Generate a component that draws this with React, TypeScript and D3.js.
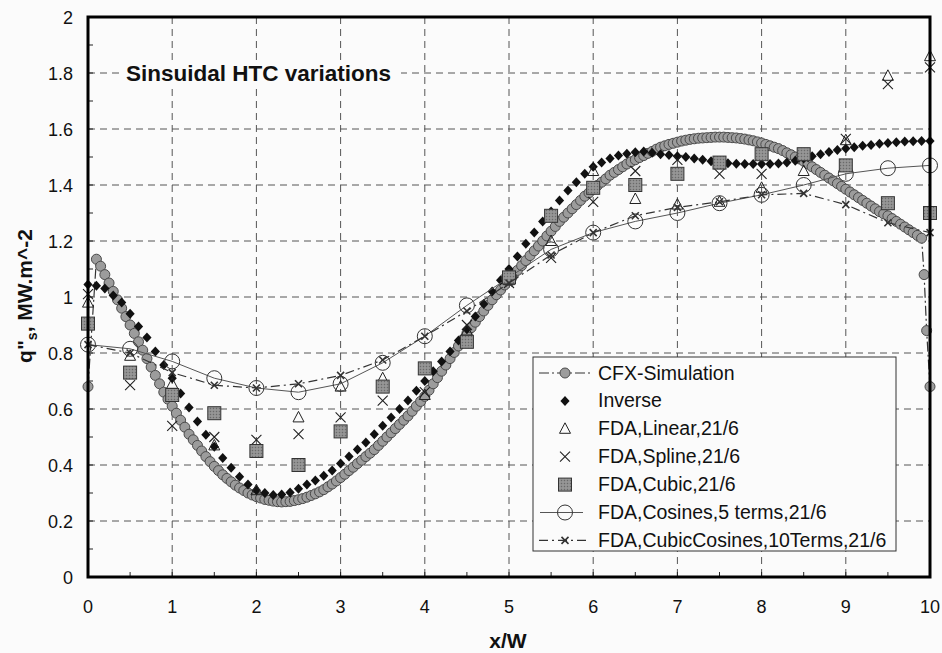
import React from 'react';
import * as d3 from 'd3';

// CFX simulation (dense gray circles)
const cfxX = [0, 0.1, 0.15, 0.2, 0.25, 0.3, 0.35, 0.4, 0.45, 0.5, 0.55, 0.6, 0.65, 0.7, 0.75, 0.8, 0.85, 0.9, 0.95,
  1.0, 1.05, 1.1, 1.15, 1.2, 1.25, 1.3, 1.35, 1.4, 1.45, 1.5, 1.55, 1.6, 1.65, 1.7, 1.75, 1.8, 1.85, 1.9, 1.95,
  2.0, 2.05, 2.1, 2.15, 2.2, 2.25, 2.3, 2.35, 2.4, 2.45, 2.5, 2.55, 2.6, 2.65, 2.7, 2.75, 2.8, 2.85, 2.9, 2.95,
  3.0, 3.05, 3.1, 3.15, 3.2, 3.25, 3.3, 3.35, 3.4, 3.45, 3.5, 3.55, 3.6, 3.65, 3.7, 3.75, 3.8, 3.85, 3.9, 3.95,
  4.0, 4.05, 4.1, 4.15, 4.2, 4.25, 4.3, 4.35, 4.4, 4.45, 4.5, 4.55, 4.6, 4.65, 4.7, 4.75, 4.8, 4.85, 4.9, 4.95,
  5.0, 5.05, 5.1, 5.15, 5.2, 5.25, 5.3, 5.35, 5.4, 5.45, 5.5, 5.55, 5.6, 5.65, 5.7, 5.75, 5.8, 5.85, 5.9, 5.95,
  6.0, 6.05, 6.1, 6.15, 6.2, 6.25, 6.3, 6.35, 6.4, 6.45, 6.5, 6.55, 6.6, 6.65, 6.7, 6.75, 6.8, 6.85, 6.9, 6.95,
  7.0, 7.05, 7.1, 7.15, 7.2, 7.25, 7.3, 7.35, 7.4, 7.45, 7.5, 7.55, 7.6, 7.65, 7.7, 7.75, 7.8, 7.85, 7.9, 7.95,
  8.0, 8.05, 8.1, 8.15, 8.2, 8.25, 8.3, 8.35, 8.4, 8.45, 8.5, 8.55, 8.6, 8.65, 8.7, 8.75, 8.8, 8.85, 8.9, 8.95,
  9.0, 9.05, 9.1, 9.15, 9.2, 9.25, 9.3, 9.35, 9.4, 9.45, 9.5, 9.55, 9.6, 9.65, 9.7, 9.75, 9.8, 9.85, 9.9,
  9.93, 9.96, 10.0];
const cfxY = [0.68, 1.135, 1.11, 1.08, 1.05, 1.02, 0.99, 0.96, 0.93, 0.90, 0.87, 0.84, 0.81, 0.78, 0.75, 0.72, 0.69, 0.66, 0.635,
  0.61, 0.585, 0.56, 0.535, 0.51, 0.49, 0.47, 0.45, 0.43, 0.412, 0.395, 0.38, 0.365, 0.352, 0.34, 0.328, 0.318, 0.309, 0.30, 0.293,
  0.287, 0.282, 0.277, 0.274, 0.271, 0.269, 0.268, 0.269, 0.27, 0.273, 0.276, 0.28, 0.285, 0.291, 0.297, 0.304, 0.312, 0.322, 0.332, 0.343,
  0.355, 0.367, 0.38, 0.392, 0.405, 0.417, 0.43, 0.442, 0.455, 0.47, 0.485, 0.50, 0.515, 0.53, 0.545, 0.56, 0.575, 0.592, 0.61, 0.627,
  0.645, 0.667, 0.69, 0.712, 0.735, 0.757, 0.78, 0.802, 0.825, 0.847, 0.87, 0.89, 0.91, 0.93, 0.95, 0.97, 0.99, 1.008, 1.025, 1.043,
  1.06, 1.078, 1.095, 1.112, 1.13, 1.148, 1.165, 1.182, 1.20, 1.218, 1.235, 1.252, 1.27, 1.285, 1.30, 1.315, 1.33, 1.345, 1.36, 1.372,
  1.385, 1.398, 1.41, 1.422, 1.435, 1.445, 1.455, 1.465, 1.475, 1.483, 1.49, 1.498, 1.505, 1.513, 1.52, 1.528, 1.535, 1.54, 1.545, 1.549,
  1.553, 1.557, 1.56, 1.563, 1.565, 1.567, 1.568, 1.569, 1.57, 1.571, 1.571, 1.571, 1.57, 1.569, 1.568, 1.566, 1.564, 1.561, 1.558, 1.554,
  1.55, 1.545, 1.54, 1.535, 1.53, 1.523, 1.515, 1.508, 1.50, 1.493, 1.485, 1.475, 1.465, 1.455, 1.445, 1.435, 1.425, 1.415, 1.405, 1.395,
  1.385, 1.375, 1.365, 1.355, 1.345, 1.335, 1.325, 1.315, 1.305, 1.297, 1.29, 1.28, 1.27, 1.26, 1.25, 1.24, 1.23, 1.22, 1.21,
  1.08, 0.88, 0.68];

// Inverse (black diamonds)
const invX = [0, 0.1, 0.2, 0.3, 0.4, 0.5, 0.6, 0.7, 0.8, 0.9, 1.0, 1.1, 1.2, 1.3, 1.4, 1.5, 1.6, 1.7, 1.8, 1.9,
  2.0, 2.1, 2.2, 2.3, 2.4, 2.5, 2.6, 2.7, 2.8, 2.9, 3.0, 3.1, 3.2, 3.3, 3.4, 3.5, 3.6, 3.7, 3.8, 3.9,
  4.0, 4.1, 4.2, 4.3, 4.4, 4.5, 4.6, 4.7, 4.8, 4.9, 5.0, 5.1, 5.2, 5.3, 5.4, 5.5, 5.6, 5.7, 5.8, 5.9,
  6.0, 6.1, 6.2, 6.3, 6.4, 6.5, 6.6, 6.7, 6.8, 6.9, 7.0, 7.1, 7.2, 7.3, 7.4, 7.5, 7.6, 7.7, 7.8, 7.9,
  8.0, 8.1, 8.2, 8.3, 8.4, 8.5, 8.6, 8.7, 8.8, 8.9, 9.0, 9.1, 9.2, 9.3, 9.4, 9.5, 9.6, 9.7, 9.8, 9.9, 10.0];
const invY = [1.045, 1.04, 1.03, 1.005, 0.98, 0.94, 0.895, 0.855, 0.805, 0.757, 0.71, 0.655, 0.605, 0.555, 0.508, 0.465, 0.425, 0.39, 0.358, 0.33,
  0.31, 0.30, 0.293, 0.295, 0.302, 0.315, 0.33, 0.345, 0.362, 0.38, 0.405, 0.43, 0.455, 0.48, 0.51, 0.54, 0.57, 0.60, 0.63, 0.665,
  0.70, 0.735, 0.77, 0.805, 0.845, 0.885, 0.93, 0.975, 1.02, 1.06, 1.10, 1.145, 1.19, 1.23, 1.27, 1.305, 1.345, 1.38, 1.41, 1.44,
  1.465, 1.48, 1.495, 1.505, 1.512, 1.517, 1.52, 1.515, 1.51, 1.507, 1.503, 1.50, 1.495, 1.49, 1.485, 1.48, 1.478, 1.476, 1.475, 1.475,
  1.475, 1.475, 1.477, 1.48, 1.487, 1.495, 1.503, 1.51, 1.518, 1.525, 1.53, 1.535, 1.54, 1.543, 1.547, 1.55, 1.553, 1.555, 1.556, 1.557, 1.557];

// FDA series, 21 points
const fdaX = [0, 0.5, 1, 1.5, 2, 2.5, 3, 3.5, 4, 4.5, 5, 5.5, 6, 6.5, 7, 7.5, 8, 8.5, 9, 9.5, 10];
const linearY = [0.98, 0.79, 0.69, 0.47, 0.31, 0.57, 0.68, 0.71, 0.65, 0.88, 1.06, 1.20, 1.45, 1.35, 1.33, 1.34, 1.39, 1.45, 1.56, 1.79, 1.86];
const splineY = [1.01, 0.685, 0.54, 0.50, 0.49, 0.51, 0.57, 0.63, 0.66, 0.90, 1.05, 1.14, 1.34, 1.45, 1.49, 1.44, 1.44, 1.50, 1.565, 1.76, 1.82];
const cubicY = [0.905, 0.73, 0.65, 0.585, 0.45, 0.40, 0.52, 0.68, 0.745, 0.84, 1.07, 1.29, 1.39, 1.40, 1.44, 1.48, 1.51, 1.51, 1.47, 1.335, 1.30];
const cosinesY = [0.83, 0.815, 0.77, 0.71, 0.675, 0.66, 0.69, 0.765, 0.86, 0.97, 1.07, 1.17, 1.23, 1.27, 1.30, 1.335, 1.365, 1.40, 1.44, 1.46, 1.47];
const cubicCosY = [0.83, 0.80, 0.73, 0.685, 0.675, 0.69, 0.72, 0.775, 0.86, 0.95, 1.05, 1.15, 1.23, 1.29, 1.32, 1.34, 1.365, 1.37, 1.33, 1.265, 1.23];

const xTicks = [0, 1, 2, 3, 4, 5, 6, 7, 8, 9, 10];
const yTicks = [0, 0.2, 0.4, 0.6, 0.8, 1, 1.2, 1.4, 1.6, 1.8, 2];
const yTickLabels = ['0', '0.2', '0.4', '0.6', '0.8', '1', '1.2', '1.4', '1.6', '1.8', '2'];
const legendLabels = ['CFX-Simulation', 'Inverse', 'FDA,Linear,21/6', 'FDA,Spline,21/6', 'FDA,Cubic,21/6',
  'FDA,Cosines,5 terms,21/6', 'FDA,CubicCosines,10Terms,21/6'];

const FONT = "'Liberation Sans', Arial, sans-serif";
const BG = '#fbfbfb';

const diamond = 'M0,-5L4.6,0L0,5L-4.6,0Z';
const triangle = 'M0,-6L5.5,4.5L-5.5,4.5Z';
const crossBig = 'M-5,-5L5,5M-5,5L5,-5';
const crossSmall = 'M-3.5,-3.5L3.5,3.5M-3.5,3.5L3.5,-3.5';

function CfxMarker({ cx, cy }: { cx: number; cy: number }) {
  return <circle cx={cx} cy={cy} r={5} fill="#9c9c9c" stroke="#4a4a4a" strokeWidth={1} />;
}
function Diamond({ cx, cy }: { cx: number; cy: number }) {
  return <path d={diamond} transform={`translate(${cx},${cy})`} fill="#111" />;
}
function Tri({ cx, cy }: { cx: number; cy: number }) {
  return <path d={triangle} transform={`translate(${cx},${cy})`} fill="none" stroke="#222" strokeWidth={1} />;
}
function Cross({ cx, cy }: { cx: number; cy: number }) {
  return <path d={crossBig} transform={`translate(${cx},${cy})`} fill="none" stroke="#222" strokeWidth={1.1} />;
}
function Square({ cx, cy }: { cx: number; cy: number }) {
  return <rect x={cx - 6.5} y={cy - 6.5} width={13} height={13} fill="url(#stip)" stroke="#333" strokeWidth={1} />;
}
function OpenCircle({ cx, cy }: { cx: number; cy: number }) {
  return <circle cx={cx} cy={cy} r={7.5} fill="none" stroke="#333" strokeWidth={1} />;
}
function SmallCross({ cx, cy }: { cx: number; cy: number }) {
  return <path d={crossSmall} transform={`translate(${cx},${cy})`} fill="none" stroke="#333" strokeWidth={1.6} />;
}

export default function App() {
  const W = 942, H = 653;
  const x = d3.scaleLinear().domain([0, 10]).range([88, 930]);
  const y = d3.scaleLinear().domain([0, 2]).range([577, 17]);
  const line = d3.line<[number, number]>().x(d => x(d[0])).y(d => y(d[1]));
  const zip = (xs: number[], ys: number[]) => xs.map((v, i) => [v, ys[i]] as [number, number]);

  const cfx = zip(cfxX, cfxY);
  const inv = zip(invX, invY);
  const lin = zip(fdaX, linearY);
  const spl = zip(fdaX, splineY);
  const cub = zip(fdaX, cubicY);
  const cos = zip(fdaX, cosinesY);
  const cc = zip(fdaX, cubicCosY);

  const [x0, x1] = x.range();
  const [y0, y1] = y.range();
  const minorY = d3.range(0, 21).map(i => i / 10);
  const minorX = d3.range(0, 21).map(i => i / 2);

  const legX = 533, legY = 357, legW = 363, legH = 194;
  const rowH = 27.9;
  const symX = 565;

  return (
    <svg width={W} height={H} style={{ position: 'absolute', left: 0, top: 0, background: BG }} fontFamily={FONT}>
      <defs>
        <pattern id="stip" width="3" height="3" patternUnits="userSpaceOnUse">
          <rect width="3" height="3" fill="#8e8e8e" />
          <rect width="1" height="1" fill="#6a6a6a" />
          <rect x="1.5" y="1.5" width="1" height="1" fill="#b0b0b0" />
        </pattern>
      </defs>
      <rect width={W} height={H} fill={BG} />

      {/* grid */}
      {xTicks.slice(1, -1).map(t => (
        <line key={'gx' + t} x1={x(t)} x2={x(t)} y1={y1} y2={y0} stroke="#555" strokeWidth={1} strokeDasharray="7,5" />
      ))}
      {yTicks.slice(1, -1).map(t => (
        <line key={'gy' + t} x1={x0} x2={x1} y1={y(t)} y2={y(t)} stroke="#555" strokeWidth={1} strokeDasharray="7,5" />
      ))}

      {/* minor ticks */}
      {minorY.map(t => (
        <line key={'my' + t} x1={x0} x2={x0 + 5} y1={y(t)} y2={y(t)} stroke="#222" strokeWidth={1} />
      ))}
      {minorX.map(t => (
        <line key={'mx' + t} x1={x(t)} x2={x(t)} y1={y0} y2={y0 - 5} stroke="#222" strokeWidth={1} />
      ))}

      {/* title */}
      <rect x={121} y={y(1.8) - 13} width={280} height={26} fill={BG} />
      <text x={126} y={y(1.8) + 8} fontSize={22.5} fontWeight="bold" fill="#111">Sinsuidal HTC variations</text>

      {/* CFX */}
      <path d={line(cfx) || ''} fill="none" stroke="#333" strokeWidth={1.2} strokeDasharray="10,3,2,3" />
      {cfx.map((d, i) => <CfxMarker key={'c' + i} cx={x(d[0])} cy={y(d[1])} />)}

      {/* Inverse */}
      {inv.map((d, i) => <Diamond key={'i' + i} cx={x(d[0])} cy={y(d[1])} />)}

      {/* Linear */}
      {lin.map((d, i) => <Tri key={'l' + i} cx={x(d[0])} cy={y(d[1])} />)}
      {/* Spline */}
      {spl.map((d, i) => <Cross key={'s' + i} cx={x(d[0])} cy={y(d[1])} />)}

      {/* Cosines */}
      <path d={line(cos) || ''} fill="none" stroke="#555" strokeWidth={1} />
      {cos.map((d, i) => <OpenCircle key={'o' + i} cx={x(d[0])} cy={y(d[1])} />)}

      {/* Cubic */}
      {cub.map((d, i) => <Square key={'q' + i} cx={x(d[0])} cy={y(d[1])} />)}

      {/* CubicCosines */}
      <path d={line(cc) || ''} fill="none" stroke="#333" strokeWidth={1.2} strokeDasharray="9,4,2,4" />
      {cc.map((d, i) => <SmallCross key={'k' + i} cx={x(d[0])} cy={y(d[1])} />)}

      {/* frame */}
      <rect x={x0} y={y1} width={x1 - x0} height={y0 - y1} fill="none" stroke="#000" strokeWidth={3} />

      {/* tick labels */}
      {yTicks.map((t, i) => (
        <text key={'yl' + t} x={73} y={y(t) + 6.5} fontSize={18} textAnchor="end" fill="#111">{yTickLabels[i]}</text>
      ))}
      {xTicks.map(t => (
        <text key={'xl' + t} x={x(t)} y={613} fontSize={18} textAnchor="middle" fill="#111">{t}</text>
      ))}

      {/* axis titles */}
      <text x={508} y={648} fontSize={21} fontWeight="bold" textAnchor="middle" fill="#111">x/W</text>
      <text transform="translate(32,296) rotate(-90)" fontSize={21} fontWeight="bold" textAnchor="middle" fill="#111">
        q"<tspan fontSize={14} dy={5}>s</tspan><tspan dy={-5}>, MW.m^-2</tspan>
      </text>

      {/* legend */}
      <rect x={legX} y={legY} width={legW} height={legH} fill={BG} stroke="#333" strokeWidth={1} />
      {legendLabels.map((lab, i) => {
        const cy = legY + 16 + i * rowH;
        return (
          <g key={'lg' + i}>
            {i === 0 && <line x1={539} x2={590} y1={cy} y2={cy} stroke="#333" strokeWidth={1.2} strokeDasharray="10,3,2,3" />}
            {i === 5 && <line x1={540} x2={583} y1={cy} y2={cy} stroke="#555" strokeWidth={1} />}
            {i === 6 && <line x1={539} x2={590} y1={cy} y2={cy} stroke="#333" strokeWidth={1.2} strokeDasharray="9,4,2,4" />}
            {i === 0 && <CfxMarker cx={symX} cy={cy} />}
            {i === 1 && <Diamond cx={symX} cy={cy} />}
            {i === 2 && <Tri cx={symX} cy={cy} />}
            {i === 3 && <Cross cx={symX} cy={cy} />}
            {i === 4 && <Square cx={symX} cy={cy} />}
            {i === 5 && <OpenCircle cx={symX} cy={cy} />}
            {i === 6 && <SmallCross cx={symX} cy={cy} />}
            <text x={598} y={cy + 6.5} fontSize={19.5} fill="#111">{lab}</text>
          </g>
        );
      })}
    </svg>
  );
}
